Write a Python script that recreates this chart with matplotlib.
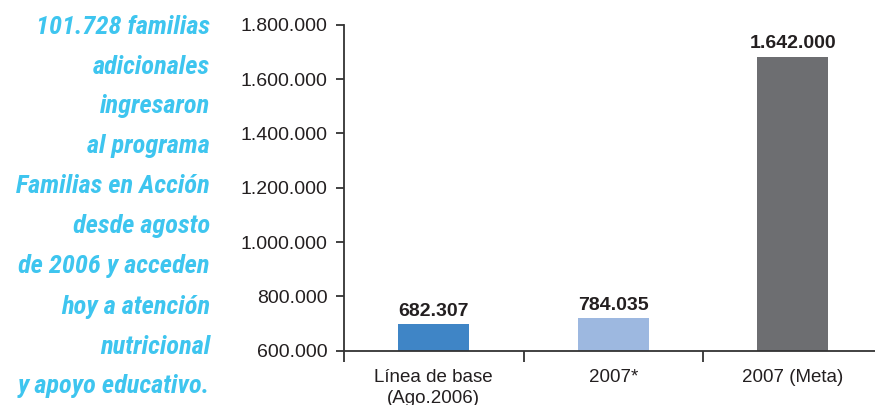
import matplotlib
matplotlib.use("Agg")
import matplotlib.pyplot as plt

# ---- data ----
categories = ["Línea de base\n(Ago.2006)", "2007*", "2007 (Meta)"]
bar_heights = [698000, 720000, 1682000]          # heights as drawn in the reference
value_labels = ["682.307", "784.035", "1.642.000"]
bar_colors = ["#3F85C6", "#9DB8E0", "#6D6E71"]
y_ticks = [600000, 800000, 1000000, 1200000, 1400000, 1600000, 1800000]
y_tick_labels = ["600.000", "800.000", "1.000.000", "1.200.000",
                 "1.400.000", "1.600.000", "1.800.000"]
side_text = ["101.728 familias", "adicionales", "ingresaron", "al programa",
             "Familias en Acción", "desde agosto", "de 2006 y acceden",
             "hoy a atención", "nutricional", "y apoyo educativo."]

W, H = 875, 405
plt.rcParams['font.family'] = ['Liberation Sans', 'DejaVu Sans']
fig = plt.figure(figsize=(W / 100, H / 100), dpi=100)

ax_left, ax_bottom, ax_top = 344, 350.7, 24.7
slot = 179.5
ax = fig.add_axes([ax_left / W, (H - ax_bottom) / H, 3 * slot / W, (ax_bottom - ax_top) / H])

x = list(range(len(categories)))
ax.bar(x, [h - 600000 for h in bar_heights], bottom=600000, width=0.394,
       color=bar_colors, zorder=2)
ax.set_xlim(-0.5, 2.5)
ax.set_ylim(600000, 1800000)

for xi, h, lab in zip(x, bar_heights, value_labels):
    ax.annotate(lab, (xi, h), xytext=(0, 6), textcoords="offset points",
                ha="center", va="baseline", fontsize=14, fontweight="bold",
                color="#231F20")

ax.set_yticks(y_ticks)
ax.set_yticklabels(y_tick_labels, fontsize=14, color="#231F20")
ax.set_xticks([-0.5, 0.5, 1.5, 2.5])
ax.set_xticklabels([])
ax.set_xticks(x, minor=True)
labels = ax.set_xticklabels(categories, minor=True, fontsize=13.5, color="#231F20")
for t in labels:
    t.set_linespacing(1.3)
ax.tick_params(axis="x", which="major", direction="out", length=8, width=1.3,
               color="#333333")
ax.tick_params(axis="x", which="minor", length=0, pad=13)
ax.tick_params(axis="y", direction="out", length=6, width=1.3, color="#333333", pad=6)

for s in ["top", "right"]:
    ax.spines[s].set_visible(False)
for s in ["left", "bottom"]:
    ax.spines[s].set_color("#333333")
    ax.spines[s].set_linewidth(1.3)

baselines = [34, 74, 113, 153, 193, 233, 273, 314, 354, 393]
for line, b in zip(side_text, baselines):
    fig.text(210 / W, (H - b) / H, line, ha="right", va="baseline",
             fontsize=19, fontweight="bold", fontstyle="italic",
             family=["Roboto Condensed", "Liberation Sans"],
             color="#3EC5EF")

fig.savefig("out.png", dpi=100)
